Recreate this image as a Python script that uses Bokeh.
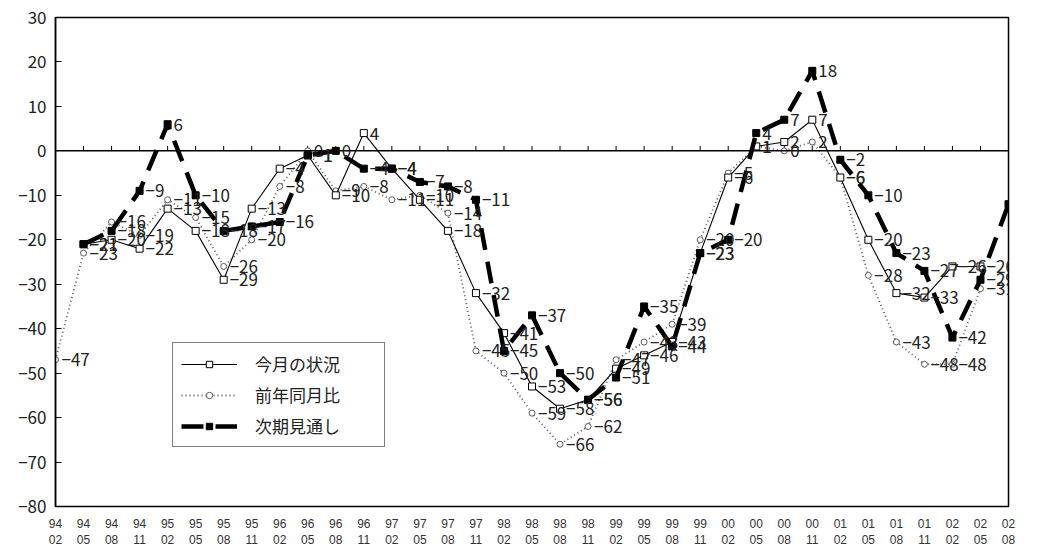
import math
import numpy as np
from bokeh.plotting import figure
from bokeh.models import (ColumnDataSource, LabelSet, Legend, LegendItem, Span,
                          Label, FixedTicker, Range1d)
from bokeh.embed import file_html
from bokeh.resources import INLINE
from bokeh.core.properties import value

# ---------------- data ----------------
categories = ["94/02", "94/05", "94/08", "94/11", "95/02", "95/05", "95/08", "95/11",
              "96/02", "96/05", "96/08", "96/11", "97/02", "97/05", "97/08", "97/11",
              "98/02", "98/05", "98/08", "98/11", "99/02", "99/05", "99/08", "99/11",
              "00/02", "00/05", "00/08", "00/11", "01/02", "01/05", "01/08", "01/11",
              "02/02", "02/05", "02/08"]
N = None
current = [N, -21, -20, -22, -13, -18, -29, -13, -4, -1, -10, 4, -4, -11, -18, -32, -41,
           -53, -58, -56, -49, -46, -43, -23, -6, 1, 2, 7, -6, -20, -32, -33, -26, -26, N]
yoy = [-47, -23, -16, -19, -11, -15, -26, -20, -8, 0, -9, -8, -11, -10, -14, -45, -50,
       -59, -66, -62, -47, -43, -39, -20, -5, 1, 0, 2, -6, -28, -43, -48, -48, -31, N]
outlook = [N, -21, -18, -9, 6, -10, -18, -17, -16, -1, 0, -4, -4, -7, -8, -11, -45,
           -37, -50, -56, -51, -35, -44, -23, -20, 4, 7, 18, -2, -10, -23, -27, -42, -29, -12]
series_names = ["今月の状況", "前年同月比", "次期見通し"]
title_text = "景況判断DI（全業種）"
y_ticks = list(range(-80, 31, 10))

NUM_FONT = "Noto Sans CJK JP"

# ---------------- figure ----------------
xs = list(range(len(categories)))
p = figure(width=1055, height=556, output_backend="svg", toolbar_location=None,
           x_range=Range1d(0, len(categories) - 1), y_range=Range1d(-80, 30),
           min_border_left=55, min_border_right=47, min_border_top=17, min_border_bottom=50)
p.xgrid.visible = False
p.ygrid.visible = False
p.outline_line_color = "black"
p.outline_line_width = 1.5
p.background_fill_color = "white"

def minus(v):
    return ("−" + str(-v)) if v < 0 else str(v)

# y axis
p.yaxis.ticker = FixedTicker(ticks=y_ticks)
p.yaxis.major_label_overrides = {t: minus(t) for t in y_ticks}
p.yaxis.major_tick_in = 6
p.yaxis.major_tick_out = 0
p.yaxis.minor_tick_line_color = None
p.yaxis.axis_line_color = "black"
p.yaxis.axis_line_width = 1.5
p.yaxis.major_label_text_font = NUM_FONT
p.yaxis.major_label_text_font_size = "17px"
p.yaxis.major_label_text_color = "#222"
p.yaxis.major_label_standoff = 9

# x axis
p.xaxis.ticker = FixedTicker(ticks=xs)
p.xaxis.major_label_overrides = {i: c.replace("/", "\n") for i, c in zip(xs, categories)}
p.xaxis.major_tick_in = 0
p.xaxis.major_tick_out = 0
p.xaxis.minor_tick_line_color = None
p.xaxis.axis_line_color = None
p.xaxis.major_label_text_font = "Liberation Sans"
p.xaxis.major_label_text_font_size = "12px"
p.xaxis.major_label_text_color = "#333"
p.xaxis.major_label_standoff = 10

# zero line with category ticks
p.add_layout(Span(location=0, dimension="width", line_color="black", line_width=1.5))
p.ray(x=xs, y=[0] * len(xs), length=5, length_units="screen", angle=math.pi / 2,
      line_color="black", line_width=1)

cur = np.array(current, dtype=float)
yy = np.array(yoy, dtype=float)
out = np.array(outlook, dtype=float)

r_yoy_l = p.line(xs, yy, line_color="#5a5a5a", line_width=1.8, line_dash="1 3")
r_yoy_m = p.scatter(xs, yy, marker="circle", size=6, fill_color="white",
                    line_color="#5a5a5a", line_width=1)
r_cur_l = p.line(xs, cur, line_color="black", line_width=1.1)
r_cur_m = p.scatter(xs, cur, marker="square", size=7, fill_color="white",
                    line_color="black", line_width=1)
r_out_l = p.line(xs, out, line_color="black", line_width=4.5, line_dash="22 12")
r_out_m = p.scatter(xs, out, marker="square", size=7, fill_color="black",
                    line_color="black")

# data labels
for arr in (yy, cur, out):
    lx = [x for x, v in zip(xs, arr) if not np.isnan(v)]
    ly = [float(v) for v in arr if not np.isnan(v)]
    lt = [minus(int(v)) for v in ly]
    src = ColumnDataSource(dict(x=lx, y=ly, t=lt))
    p.add_layout(LabelSet(x="x", y="y", text="t", source=src, x_offset=6, y_offset=0,
                          text_baseline="middle", text_align="left",
                          text_font=value(NUM_FONT), text_font_size="17px",
                          text_color="#222"))

legend = Legend(items=[LegendItem(label=series_names[0], renderers=[r_cur_l, r_cur_m]),
                       LegendItem(label=series_names[1], renderers=[r_yoy_l, r_yoy_m]),
                       LegendItem(label=series_names[2], renderers=[r_out_l, r_out_m])],
                location=(117, 59), border_line_color="black", border_line_width=1.5,
                background_fill_color="white", background_fill_alpha=1,
                label_text_font="Noto Sans CJK JP", label_text_font_size="17px",
                label_text_color="#222", glyph_width=56, glyph_height=16,
                label_standoff=18, padding=8, spacing=6, label_width=121, margin=0)
p.add_layout(legend)

p.add_layout(Label(x=446, y=506, x_units="screen", y_units="screen", text=title_text,
                   text_align="center", text_baseline="top",
                   text_font="Noto Sans CJK JP", text_font_size="11px", text_color="#222"))

open("out.html", "w").write(file_html(p, INLINE))
